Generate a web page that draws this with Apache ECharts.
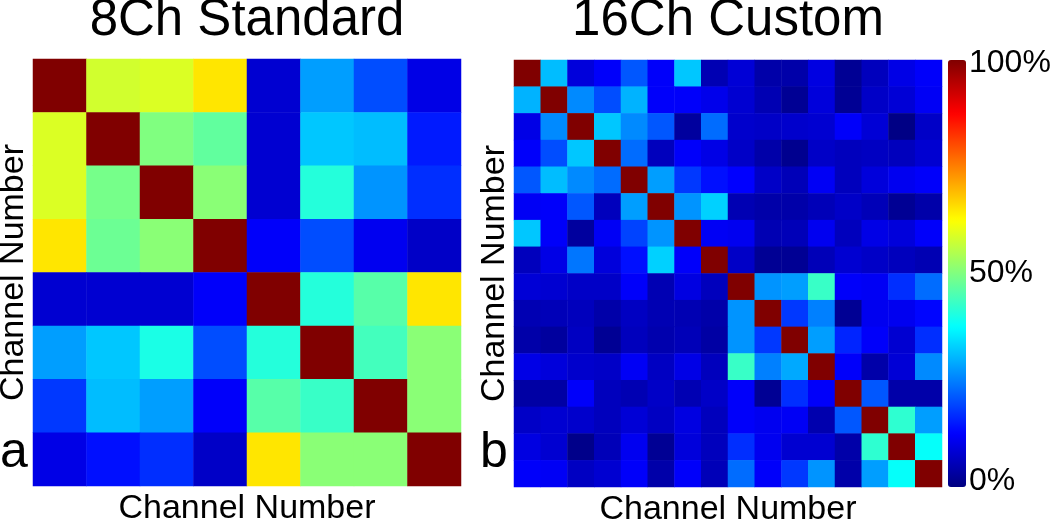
<!DOCTYPE html>
<html><head><meta charset="utf-8">
<script src="https://cdn.jsdelivr.net/npm/echarts@6/dist/echarts.min.js"></script>
<style>html,body{margin:0;padding:0;background:#fff}#c{width:1050px;height:525px}</style>
</head><body><div id="c"></div>
<script>
const channels8 = ['1','2','3','4','5','6','7','8'];
const channels16 = ['1','2','3','4','5','6','7','8','9','10','11','12','13','14','15','16'];
// correlation in percent, rows top-to-bottom
const standard8 = [
  [100, 58, 59, 65,  8, 28, 20, 10],
  [ 59,100, 50, 47,  8, 32, 31, 15],
  [ 59, 49,100, 51,  8, 41, 27, 17],
  [ 65, 48, 51,100, 12, 20, 11,  7],
  [  8,  8,  8, 12,100, 41, 46, 65],
  [ 28, 32, 40, 20, 41,100, 44, 51],
  [ 18, 31, 28, 12, 46, 43,100, 51],
  [ 10, 14, 17,  7, 65, 51, 51,100]
];
const custom16 = [
  [100, 31,  9, 12, 21, 12, 32,  5, 8.5,  4,  4,9.5,  2,  6, 10, 12],
  [ 30,100, 26, 20, 30, 12, 12,10.5,  8,  5,  2,  9,  2,  7,8.5,11.5],
  [ 10, 26,100, 32, 26, 21,  3, 23,7.5,  7,7.5,  8, 12,8.5,0.5,  7],
  [ 12, 20, 32,100, 23,  6, 12, 10,  7,  4,1.5,  7,  6,6.5,  6,  8],
  [ 21, 31, 26, 23,100, 28, 18, 14,12.5, 7,5.5,11.5, 6,  9, 11, 12],
  [11.5,12, 21,  6, 28,100, 27, 33,  5,  4,  4,5.5,  7,5.5,  2,  4],
  [ 32, 12,  3,11.5, 19, 27,100,11.5,11,  5,5.5, 11,  6, 10,  9, 12],
  [  6, 10, 24,  9, 14, 33, 12,100,  7,  2,  2,5.5,  8,  7,  6,  5],
  [8.5,  8,  7,  7, 12,  5,9.5,  6,100, 27, 28, 43, 12,11.5,17, 23],
  [  5,5.5,  6,  4,6.5,  5,  5,  4, 27,100, 18, 25,  2, 11, 11, 13],
  [  4,  3,6.5,  2,  6,4.5,5.5,3.5, 27, 18,100, 28, 16, 12,  8, 17],
  [ 10,  9,7.5,  7,11.5,6.5,10,  6, 43, 25, 29,100, 12,  4,8.5, 26],
  [3.5,3.5, 12,  6,  5,  7,  5,  7, 12,  2, 17, 12,100, 21,  4,  4],
  [  7,  8,7.5,  6,8.5,6.5,9.5,  6, 12, 11,11.5,4.5,21,100, 42, 28],
  [9.5,  8,  1,5.5, 11,  2,  9,  6, 17, 11,  8,  8,  4, 42,100, 38],
  [ 12,11.5,6.5, 8, 12,  4, 12,5.5, 23, 12, 18, 27,  4, 28, 38,100]
];
const colorTicks = [0, 50, 100];
const titles = ['8Ch Standard', '16Ch Custom'];
const panelLetters = ['a', 'b'];
const axisTitle = 'Channel Number';

function toCells(m) {
  const out = [];
  m.forEach((row, r) => row.forEach((v, c) => out.push([c, r, v])));
  return out;
}
const FONT = 'Liberation Sans, Arial, sans-serif';
const jet = ['#000080','#0000ff','#0080ff','#00ffff','#80ff80','#ffff00','#ff8000','#ff0000','#800000'];

const grids = [
  {left: 33, top: 59, width: 428, height: 427, outerBoundsMode: 'none', containLabel: false},
  {left: 514, top: 60, width: 428, height: 427, outerBoundsMode: 'none', containLabel: false},
  {left: 948, top: 60, width: 18, height: 427, outerBoundsMode: 'none', containLabel: false}
];
function catX(idx, data, gap) {
  return {type:'category', gridIndex: idx, data: data, name: axisTitle, nameLocation:'middle',
    nameGap: gap, nameTextStyle:{fontSize:34, color:'#000', fontFamily: FONT},
    axisLine:{show:false}, axisTick:{show:false}, axisLabel:{show:false}, splitLine:{show:false}};
}
function catY(idx, data, gap) {
  return {type:'category', gridIndex: idx, data: data, inverse: true, name: axisTitle, nameLocation:'middle',
    nameRotate: 90, nameGap: gap, nameTextStyle:{fontSize:34, color:'#000', fontFamily: FONT},
    axisLine:{show:false}, axisTick:{show:false}, axisLabel:{show:false}, splitLine:{show:false}};
}
const titleStyle = {fontSize:51, fontWeight:'normal', color:'#000', fontFamily: FONT};
const letterStyle = {fontSize:50, fontWeight:'normal', color:'#000', fontFamily: FONT};

const option = {
  backgroundColor: '#fff',
  animation: false,
  textStyle: {fontFamily: FONT},
  title: [
    {text: titles[0], left: 247, top: -5, textAlign: 'center', padding: 0, textStyle: titleStyle},
    {text: titles[1], left: 728, top: -5, textAlign: 'center', padding: 0, textStyle: titleStyle},
    {text: panelLetters[0], left: 0, top: 428, padding: 0, textStyle: letterStyle},
    {text: panelLetters[1], left: 480, top: 428, padding: 0, textStyle: letterStyle}
  ],
  grid: grids,
  xAxis: [catX(0, channels8, 6), catX(1, channels16, 6),
    {type:'value', gridIndex:2, show:false, min:0, max:1}],
  yAxis: [catY(0, channels8, 2), catY(1, channels16, 2),
    {type:'value', gridIndex:2, position:'right', min:0, max:100, interval:50,
      axisLine:{show:false}, axisTick:{show:false}, splitLine:{show:false},
      axisLabel:{show:true, margin:3, fontSize:32, color:'#000', fontFamily: FONT,
        formatter: function (v) {
          if (v === 100) return '{t|' + v + '%}';
          if (v === 0) return '{b|' + v + '%}';
          return v + '%';
        },
        rich: {
          t: {fontSize:32, color:'#000', fontFamily: FONT, padding:[7,0,0,0]},
          b: {fontSize:32, color:'#000', fontFamily: FONT, padding:[0,0,12,0]}
        }}}],
  visualMap: {
    type:'continuous', min:0, max:100, seriesIndex:[0,1], calculable:false,
    orient:'vertical', left: 948, top: 60, itemWidth: 18, itemHeight: 427, padding: 0,
    text: null, inRange: {color: jet}, hoverLink: false
  },
  series: [
    {type:'heatmap', xAxisIndex:0, yAxisIndex:0, data: toCells(standard8),
      itemStyle:{borderWidth:0}, emphasis:{disabled:true}, progressive:0},
    {type:'heatmap', xAxisIndex:1, yAxisIndex:1, data: toCells(custom16),
      itemStyle:{borderWidth:0}, emphasis:{disabled:true}, progressive:0}
  ]
};
const chart = echarts.init(document.getElementById('c'), null, {renderer:'canvas'});
chart.setOption(option);
</script>
</body></html>
